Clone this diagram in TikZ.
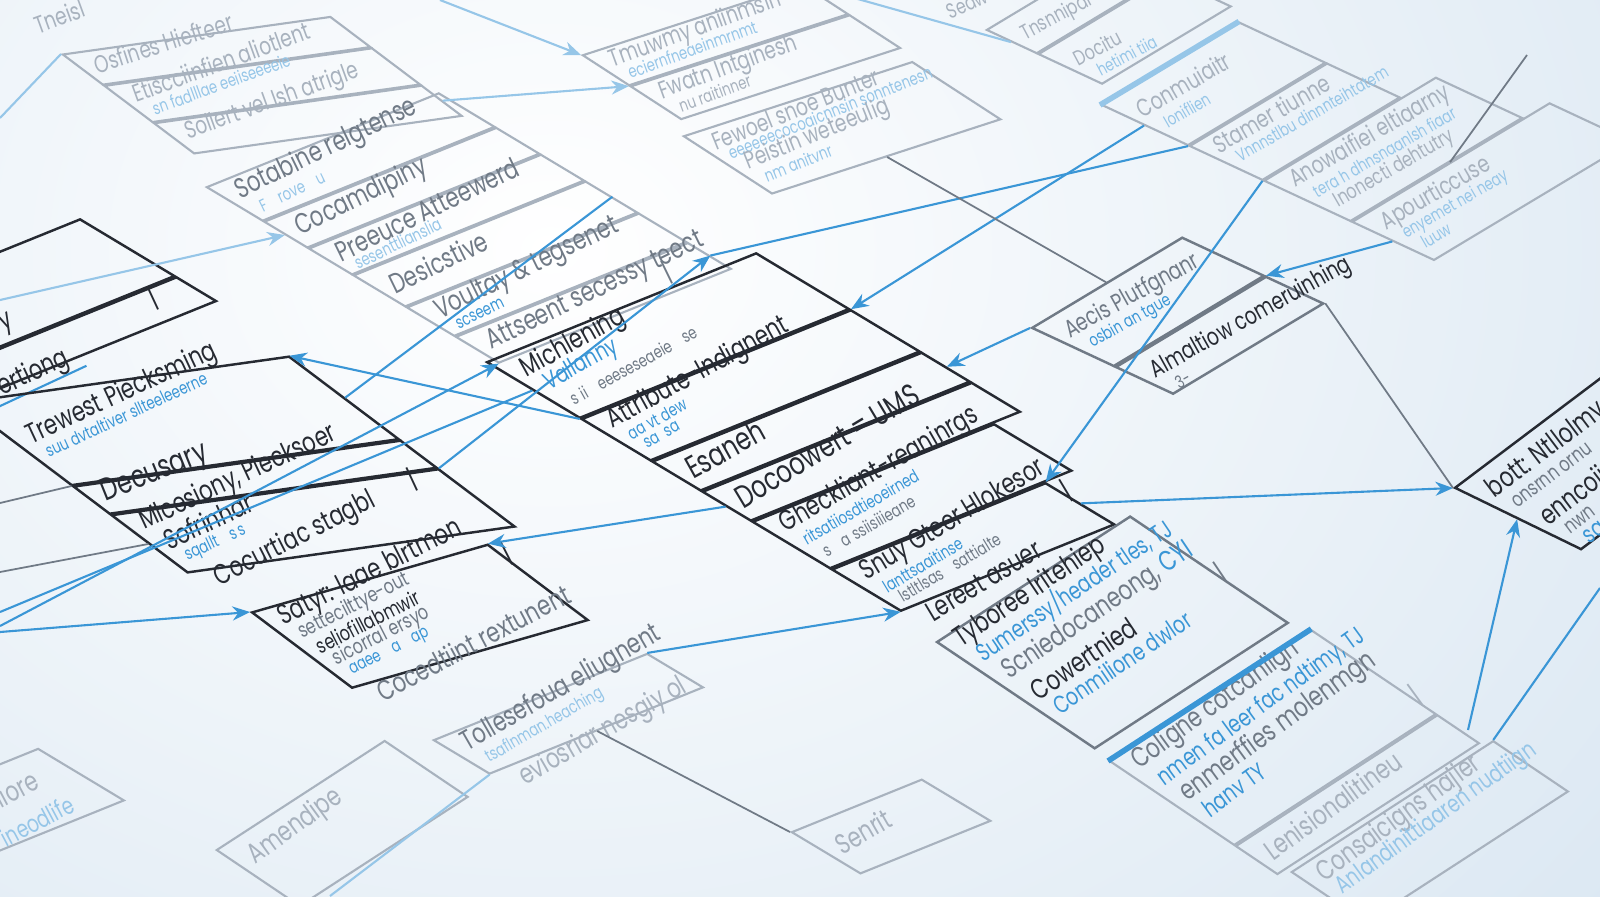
\documentclass[tikz,border=0pt]{standalone}
\usepackage{fontspec}
\setmainfont{Poppins}
\usetikzlibrary{calc,arrows.meta}
\definecolor{ink}{RGB}{38,42,50}
\definecolor{dim}{RGB}{112,122,134}
\definecolor{fade}{RGB}{168,178,190}
\definecolor{wire}{RGB}{58,150,214}
\definecolor{wirefade}{RGB}{150,198,232}
\definecolor{bgblue}{RGB}{212,227,240}

\begin{document}
\begin{tikzpicture}[x=0.01cm, y=-0.01cm]
\tikzset{
    pmid/.style={cm={0.927,0.375,-0.857,0.515,(0,0)}},
    pflat/.style={cm={0.990,0.139,-0.799,0.602,(0,0)}},
    plean/.style={cm={0.961,0.276,-0.799,0.602,(0,0)}},
    psteep/.style={cm={0.839,0.545,-0.829,0.559,(0,0)}},
    pskew/.style={cm={0.857,0.515,-0.906,0.423,(0,0)}},
    ptilt/.style={cm={0.799,0.602,-0.899,0.438,(0,0)}},
    pfar/.style={cm={0.951,0.309,-0.839,0.545,(0,0)}},
    cell/.style={draw=ink, line width=0.7pt, rectangle, inner sep=0pt,
        minimum width=#1, anchor=north west, transform shape},
    faded/.style={draw=fade, line width=0.6pt},
    lbl/.style={anchor=west, inner xsep=5pt, inner ysep=0pt, rotate=#1,
        xscale=0.75, text=ink, font=\fontsize{8}{9}\selectfont},
    lbl/.default=28,
    sub/.style={lbl=#1, text=wire, font=\fontsize{5}{6}\selectfont},
    sub/.default=28,
    link/.style={draw=wire, line width=0.6pt},
    pale/.style={draw=wirefade, line width=0.6pt},
    rel/.style={draw=dim, line width=0.5pt},
    arr/.style={-{Stealth[length=5pt,width=4pt]}},
}
\useasboundingbox (0,0) rectangle (1600,896);
\shade[inner color=white, outer color=bgblue] (-1100,-1050) rectangle (2200,1550);

% top left, out of focus
\begin{scope}[shift={(61,54)}, pflat]
  \node[cell=2.7cm, faded, minimum height=0.5cm] (o1) at (0,0) {};
  \node[cell=2.7cm, faded, minimum height=0.6cm] (o2) at (o1.south west) {};
  \node[cell=2.7cm, faded, minimum height=0.5cm] (o3) at (o2.south west) {};
  \node[lbl=18, text=fade, font=\fontsize{7}{8}\selectfont] (o1t) at (o1.west) {Osfines Hiefteer};
  \node[lbl=20, text=fade, font=\fontsize{7}{8}\selectfont] (o2t) at ($(o2.north west)!.35!(o2.south west)$) {Etiscciinfien aliotlent};
  \node[sub=20, text=wirefade] (o2s) at ($(o2.north west)!.75!(o2.south west)$) {sn fadlllae eeiiseeeeie};
  \node[lbl=20, text=fade, font=\fontsize{7}{8}\selectfont] (o3t) at (o3.west) {Sollert vel Ish atrigle};
\end{scope}
\node[lbl=20, text=fade, font=\fontsize{7}{8}\selectfont] (tnt) at (22,30) {Tneisl};

% left edge rows
\begin{scope}[shift={(-154,313)}, pmid]
  \node[cell=2.5cm, minimum height=1.1cm] (l1) at (0,0) {};
  \node[cell=2.5cm, minimum height=0.46cm] (l2) at (l1.south west) {};
\end{scope}
\node[lbl=25, anchor=east] (l1t) at (24,314) {Inventory};
\node[lbl=25, anchor=east] (l2t) at (80,352) {Assertiong};
\draw[link] (l2t.south west) -- (l2t.south east);
\node[lbl=25, inner xsep=0pt] (tk1) at (150,300) {|};

% left column
\begin{scope}[shift={(-40,402)}, pflat]
  \node[cell=3.3cm, minimum height=1.37cm] (c0) at (0,0) {};
  \node[cell=3.3cm, minimum height=0.45cm] (c1) at (c0.south west) {};
  \node[cell=3.3cm, minimum height=0.95cm] (c2) at (c1.south west) {};
  \node[lbl=25] (c0t) at (c0.west) {Trewest Piecksming};
  \node[sub=25] (c0s) at ($(c0.north west)!.66!(c0.south west)$) {suu dvtaltiver sllteeleeerne};
  \node[lbl=22, font=\fontsize{9}{10}\selectfont] (c1t) at (c1.west) {Decusary};
  \node[lbl=25] (c2t) at ($(c2.north west)!.25!(c2.south west)$) {Mlcesiony, Piecksoer};
  \node[lbl=25] (c2u) at ($(c2.north west)!.55!(c2.south west)$) {Sofrinhar};
  \node[sub=25] (c2s) at ($(c2.north west)!.82!(c2.south west)$) {sqallt\quad s\,s};
\end{scope}
\node[lbl=27] (c3t) at ($(c2.north west)!1.22!(c2.south west)$) {Cocurtiac stagbl};
\node[lbl=25, inner xsep=0pt] (tk4) at ($(c2.north east)!.12!(c2.south west)$) {|};

% upper chain
\begin{scope}[shift={(205,187)}, pmid]
  \node[cell=2.5cm, faded, minimum height=0.65cm] (a1) at (0,0) {};
  \node[cell=2.5cm, faded, minimum height=0.5cm] (a2) at (a1.south west) {};
  \node[cell=2.5cm, faded, minimum height=0.5cm] (a3) at (a2.south west) {};
  \node[cell=2.5cm, faded, minimum height=0.6cm] (a4) at (a3.south west) {};
  \node[cell=2.5cm, faded, minimum height=0.55cm] (a5) at (a4.south west) {};
  \node[cell=2.5cm, faded, minimum height=0.5cm] (a6) at (a5.south west) {};
  \node[lbl=26, text=dim] (a1t) at ($(a1.north west)!.35!(a1.south west)$) {Sotabine relgtense};
  \node[sub=26, text=wirefade] (a1s) at ($(a1.north west)!.75!(a1.south west)$) {F\quad rove\quad u};
  \node[lbl=26, text=dim] (a2t) at (a2.west) {Cocamdipiny};
  \node[lbl=26, text=dim] (a3t) at ($(a3.north west)!.4!(a3.south west)$) {Preeuce Atteewerd};
  \node[sub=26, text=wirefade] (a3s) at ($(a3.north west)!.8!(a3.south west)$) {sesenttlianslia};
  \node[lbl=26, text=dim] (a4t) at (a4.west) {Desicstive};
  \node[lbl=26, text=dim] (a5t) at ($(a5.north west)!.4!(a5.south west)$) {Voultay \& tegsenet};
  \node[sub=26] (a5s) at ($(a5.north west)!.8!(a5.south west)$) {scseem};
  \node[lbl=26, text=dim] (a6t) at (a6.west) {Attseent secessy teect};
  \node[lbl=26, inner xsep=0pt, text=dim] (tk2) at ($(a6.west)!.8!(a6.east)$) {|};
\end{scope}

% central chain
\begin{scope}[shift={(485,362)}, pmid]
  \node[cell=2.9cm, minimum height=1.08cm] (b1) at (0,0) {};
  \node[cell=2.9cm, minimum height=0.8cm] (b2) at (b1.south west) {};
  \node[cell=2.9cm, minimum height=0.56cm] (b3) at (b2.south west) {};
  \node[cell=2.9cm, minimum height=0.56cm] (b4) at (b3.south west) {};
  \node[cell=2.6cm, minimum height=0.9cm] (b5) at (b4.south west) {};
  \node[cell=2.3cm, minimum height=0.8cm] (b6) at (b5.south west) {};
  \node[lbl=29] (b1t) at ($(b1.north west)!.28!(b1.south west)$) {Michlening};
  \node[sub=29, font=\fontsize{7}{8}\selectfont] (b1s) at ($(b1.north west)!.52!(b1.south west)$) {Vallanny};
  \node[sub=29, text=dim] (b1u) at ($(b1.north west)!.78!(b1.south west)$) {s\,\,ii\quad eeeseseaeie\quad se};
  \node[lbl=29] (b2t) at ($(b2.north west)!.25!(b2.south west)$) {Attribute-Indignent};
  \node[sub=29] (b2s) at ($(b2.north west)!.52!(b2.south west)$) {aa vt dew};
  \node[sub=29] (b2u) at ($(b2.north west)!.75!(b2.south west)$) {sa~ sa};
  \node[lbl=29, font=\fontsize{9}{10}\selectfont] (b3t) at (b3.west) {Esaneh};
  \node[lbl=31, font=\fontsize{9}{10}\selectfont] (b4t) at (b4.west) {Docoowert = UMS};
  \node[lbl=30] (b5t) at ($(b5.north west)!.25!(b5.south west)$) {Gheckliant-reaninrgs};
  \node[sub=30] (b5s) at ($(b5.north west)!.52!(b5.south west)$) {ritsatiiosdtieoeirned};
  \node[sub=30, text=dim] (b5u) at ($(b5.north west)!.77!(b5.south west)$) {s\quad a\,\,ssiisiiieane};
  \node[lbl=31] (b6t) at ($(b6.north west)!.3!(b6.south west)$) {Snuy Gteer Hlokesor};
  \node[sub=31] (b6s) at ($(b6.north west)!.6!(b6.south west)$) {lanttsaaitinse};
  \node[sub=31, text=dim] (b6u) at ($(b6.north west)!.82!(b6.south west)$) {lstltlsas\quad sattialte};
\end{scope}
\node[lbl=31] (b7t) at ($(b6.north west)!1.22!(b6.south west)$) {Lereet asuer};
\node[lbl=31, inner xsep=0pt] (tk5) at ($(b6.north east)!.25!(b6.south east)$) {|};

% lower left box
\begin{scope}[shift={(250,612)}, plean]
  \node[cell=2.45cm, minimum height=1.25cm] (d1) at (0,0) {};
  \node[lbl=27] (d1t) at ($(d1.north west)!.18!(d1.south west)$) {Satyr: laae blrtmon};
  \node[sub=27, text=dim, font=\fontsize{6}{7}\selectfont] (d1s) at ($(d1.north west)!.37!(d1.south west)$) {settecilttye-out};
  \node[sub=27, text=ink, font=\fontsize{6}{7}\selectfont] (d1u) at ($(d1.north west)!.54!(d1.south west)$) {seliofillabmwir};
  \node[sub=27, text=dim, font=\fontsize{6}{7}\selectfont] (d1v) at ($(d1.north west)!.71!(d1.south west)$) {sicorral ersyo};
  \node[sub=27] (d1w) at ($(d1.north west)!.87!(d1.south west)$) {aaee\quad a\quad ap};
\end{scope}
\node[lbl=28, text=dim] (d2t) at ($(d1.north west)!1.14!(d1.south west)$) {Cocedtiint rextunent};
\node[lbl=27, inner xsep=0pt] (tk3) at ($(d1.north east)!.15!(d1.south east)$) {|};

\begin{scope}[shift={(432,740)}, pmid]
  \node[cell=2.3cm, faded, minimum height=0.65cm] (e1) at (0,0) {};
  \node[lbl=30, text=dim] (e1t) at ($(e1.north west)!.35!(e1.south west)$) {Tollesefoua eliugnent};
  \node[sub=30, text=wirefade] (e1s) at ($(e1.north west)!.75!(e1.south west)$) {tsaflnman.heaching};
\end{scope}
\node[lbl=30, text=fade] (e2t) at ($(e1.north west)!1.35!(e1.south west)$) {eviosriar nesgiy ol};

% lower right chain
\begin{scope}[shift={(935,642)}, psteep]
  \node[cell=2.3cm, draw=dim, minimum height=1.9cm] (f1) at (0,0) {};
  \node[lbl=34] (f1t) at ($(f1.north west)!.07!(f1.south west)$) {Tyboree Iritehiep};
  \node[sub=34, font=\fontsize{7}{8}\selectfont] (f1s) at ($(f1.north west)!.2!(f1.south west)$) {Sumerssy/header tles, TJ};
  \node[lbl=34, text=dim] (f1u) at ($(f1.north west)!.37!(f1.south west)$) {Scniedocaneong, \textcolor{wire}{CYI}};
  \node[lbl=34] (f1v) at ($(f1.north west)!.54!(f1.south west)$) {Cowertnied};
  \node[sub=34, font=\fontsize{7}{8}\selectfont] (f1w) at ($(f1.north west)!.68!(f1.south west)$) {Conmilione dwlor};
  \node[lbl=34, inner xsep=0pt, text=dim] (tk6) at ($(f1.north east)!.55!(f1.south east)$) {|};
\end{scope}

\begin{scope}[shift={(1108,761)}, psteep]
  \node[cell=2.4cm, faded, minimum height=1.5cm] (g1) at (0,0) {};
  \node[cell=2.4cm, faded, minimum height=0.5cm] (g2) at (g1.south west) {};
  \node[lbl=36, text=dim] (g1t) at ($(g1.north west)!.13!(g1.south west)$) {Coligne cotcanlign};
  \node[sub=36, font=\fontsize{7}{8}\selectfont] (g1s) at ($(g1.north west)!.33!(g1.south west)$) {nmen fa leer fac ndtimy, TJ};
  \node[lbl=36, text=dim] (g1u) at ($(g1.north west)!.51!(g1.south west)$) {enmerffies molenmgn};
  \node[sub=36, font=\fontsize{7}{8}\selectfont] (g1v) at ($(g1.north west)!.68!(g1.south west)$) {hanv TY};
  \node[lbl=36, text=fade] (g2t) at (g2.west) {Lenisionalitineu};
  \node[lbl=36, inner xsep=0pt, text=fade] (tk7) at ($(g1.north east)!.8!(g1.south east)$) {|};
\end{scope}
\draw[link, line width=1.6pt] (g1.north west) -- (g1.north east);

\begin{scope}[shift={(1290,872)}, psteep]
  \node[cell=2.4cm, faded, minimum height=0.9cm] (k1) at (0,0) {};
  \node[lbl=36, text=fade] (k1t) at ($(k1.north west)!.25!(k1.south west)$) {Consaicigns hajier};
  \node[sub=36, text=wirefade, font=\fontsize{7}{8}\selectfont] (k1s) at ($(k1.north west)!.5!(k1.south west)$) {Anlandinittiaaren nudtiign};
\end{scope}

% right boxes
\begin{scope}[shift={(1030,328)}, pskew]
  \node[cell=1.75cm, draw=dim, minimum height=0.9cm] (h1) at (0,0) {};
  \node[cell=1.75cm, draw=dim, minimum height=0.63cm] (h2) at (h1.south west) {};
  \node[lbl=29, text=dim, font=\fontsize{7}{8}\selectfont] (h1t) at ($(h1.north west)!.3!(h1.south west)$) {Aecis Plutfgnanr};
  \node[sub=29] (h1s) at ($(h1.north west)!.58!(h1.south west)$) {osbin an tgue};
  \node[lbl=29, font=\fontsize{7}{8}\selectfont] (h2t) at ($(h2.north west)!.45!(h2.south west)$) {Almaltiow comeruinhing};
  \node[sub=29, text=dim] (h2s) at ($(h2.north west)!.85!(h2.south west)$) {3-};
\end{scope}

\begin{scope}[shift={(1453,488)}, ptilt]
  \node[cell=2.2cm, minimum height=1.4cm] (q1) at (0,0) {};
  \node[lbl=37] (q1t) at ($(q1.north west)!.21!(q1.south west)$) {bott: Ntllolmy};
  \node[lbl=37, text=dim, font=\fontsize{6}{7}\selectfont] (q1s) at ($(q1.north west)!.39!(q1.south west)$) {onsrnn ornu};
  \node[lbl=37] (q1u) at ($(q1.north west)!.61!(q1.south west)$) {enncoiiuin};
  \node[lbl=37, text=dim, font=\fontsize{6}{7}\selectfont] (q1v) at ($(q1.north west)!.8!(q1.south west)$) {nwn};
  \node[sub=37, font=\fontsize{7}{8}\selectfont] (q1w) at ($(q1.north west)!.95!(q1.south west)$) {sa};
\end{scope}

% top right, out of focus
\begin{scope}[shift={(1100,105)}, pskew]
  \node[cell=1.6cm, faded, minimum height=0.95cm] (t1) at (0,0) {};
  \node[cell=1.6cm, faded, minimum height=0.8cm] (t2) at (t1.south west) {};
  \node[cell=2.0cm, faded, minimum height=0.95cm] (t3) at (t2.south west) {};
  \node[cell=2.3cm, faded, minimum height=0.9cm] (t4) at (t3.south west) {};
  \node[lbl=30, text=fade, font=\fontsize{7}{8}\selectfont] (t1t) at ($(t1.north west)!.3!(t1.south west)$) {Conmuiaitr};
  \node[sub=30, text=wirefade] (t1s) at ($(t1.north west)!.6!(t1.south west)$) {Ioniflien};
  \node[lbl=30, text=fade, font=\fontsize{7}{8}\selectfont] (t2t) at ($(t2.north west)!.2!(t2.south west)$) {Stamer tiunne};
  \node[sub=30, text=wirefade] (t2s) at ($(t2.north west)!.5!(t2.south west)$) {Vnnnstlbu dinnnteihtatem};
  \node[lbl=30, text=fade, font=\fontsize{7}{8}\selectfont] (t3t) at ($(t3.north west)!.2!(t3.south west)$) {Anowaifiei eltiaarny};
  \node[sub=30, text=wirefade] (t3s) at ($(t3.north west)!.45!(t3.south west)$) {tera h dhnsnaanlsh fiaar};
  \node[lbl=30, text=fade, font=\fontsize{6}{7}\selectfont] (t3u) at ($(t3.north west)!.7!(t3.south west)$) {Inonecti dehtutry};
  \node[lbl=30, text=fade, font=\fontsize{7}{8}\selectfont] (t4t) at ($(t4.north west)!.25!(t4.south west)$) {Apourticcuse};
  \node[sub=30, text=wirefade] (t4s) at ($(t4.north west)!.5!(t4.south west)$) {enyemet nei neay};
  \node[sub=30, text=wirefade] (t4u) at ($(t4.north west)!.72!(t4.south west)$) {luuw};
\end{scope}
\draw[pale, line width=1.6pt] (t1.north west) -- (t1.north east);

\begin{scope}[shift={(985,30)}, pskew]
  \node[cell=1.5cm, faded, minimum height=0.55cm] (u1) at (0,0) {};
  \node[cell=1.5cm, faded, minimum height=0.7cm] (u2) at (u1.south west) {};
  \node[lbl=28, text=fade, font=\fontsize{6}{7}\selectfont] (u1t) at (u1.west) {Tnsnnipal};
  \node[lbl=28, text=fade, font=\fontsize{6}{7}\selectfont] (u2t) at ($(u2.north west)!.4!(u2.south west)$) {Docitu};
  \node[sub=28, text=wirefade] (u2s) at ($(u2.north west)!.75!(u2.south west)$) {hetimi tiia};
\end{scope}
\node[lbl=24, text=fade, font=\fontsize{6}{7}\selectfont] (u0t) at (935,18) {Seaw\quad dat};

% top middle, out of focus
\begin{scope}[shift={(581,55)}, pfar]
  \node[cell=2.3cm, faded, minimum height=0.55cm] (m1) at (0,0) {};
  \node[cell=2.3cm, faded, minimum height=0.6cm] (m2) at (m1.south west) {};
  \node[lbl=20, text=fade, font=\fontsize{7}{8}\selectfont] (m1t) at ($(m1.north west)!.35!(m1.south west)$) {Tmuwmy aniinmsin};
  \node[sub=20, text=wirefade] (m1s) at ($(m1.north west)!.72!(m1.south west)$) {eciernfneaeinmrnmt};
  \node[lbl=20, text=fade, font=\fontsize{7}{8}\selectfont] (m2t) at ($(m2.north west)!.35!(m2.south west)$) {Fwatn Intginesh};
  \node[sub=20, text=fade] (m2s) at ($(m2.north west)!.72!(m2.south west)$) {nu raitinner};
\end{scope}

\begin{scope}[shift={(682,136)}, pfar]
  \node[cell=2.4cm, faded, minimum height=1.05cm] (n1) at (0,0) {};
  \node[lbl=22, text=fade, font=\fontsize{7}{8}\selectfont] (n1t) at ($(n1.north west)!.2!(n1.south west)$) {Fewoel snoe Bunter};
  \node[sub=22, text=wirefade] (n1s) at ($(n1.north west)!.38!(n1.south west)$) {eeeeeecocoaicnnsin sonntenesn};
  \node[lbl=22, text=fade, font=\fontsize{7}{8}\selectfont] (n1u) at ($(n1.north west)!.57!(n1.south west)$) {Peistin weteeulig};
  \node[sub=22, text=wirefade] (n1v) at ($(n1.north west)!.78!(n1.south west)$) {nm anitvnr};
\end{scope}

% bottom, out of focus
\begin{scope}[shift={(-140,820)}, pmid]
  \node[cell=1.9cm, faded, minimum height=1.0cm] (p1) at (0,0) {};
\end{scope}
\node[lbl=28, anchor=east, text=fade] (p1t) at (48,772) {Imiore};
\node[sub=28, anchor=east, text=wirefade, font=\fontsize{7}{8}\selectfont] (p1s) at (84,796) {ineodlife};

\begin{scope}[shift={(215,850)}, psteep]
  \node[cell=2.0cm, faded, minimum height=1.0cm] (z1) at (0,0) {};
  \node[lbl=36, text=fade] (z1t) at ($(z1.north west)!.3!(z1.south west)$) {Amendipe};
\end{scope}

\begin{scope}[shift={(790,832)}, pmid]
  \node[cell=1.4cm, faded, minimum height=0.8cm] (z2) at (0,0) {};
  \node[lbl=30, text=fade] (z2t) at ($(z2.north west)!.5!(z2.south west)$) {Senrit};
\end{scope}

% connectors
\coordinate (w1) at (0,632);
\coordinate (w2) at (0,626);
\coordinate (w3) at (0,612);
\coordinate (w4) at (0,300);
\coordinate (w5) at (0,118);
\coordinate (w6) at (440,0);
\coordinate (w7) at (1468,730);
\coordinate (w8) at (1600,588);
\coordinate (w9) at (330,896);
\coordinate (w10) at (1527,55);
\coordinate (g0) at (0,503);
\coordinate (g00) at (0,572);

\draw[link, arr] (w1) -- (d1.north west);
\draw[link, arr] (w2) -- (a6.south west);
\draw[link] (w3) -- (b1.west);
\draw[rel] (g0) -- (c1.north west);
\draw[rel] (g00) -- (c2.west);
\draw[link, arr] (b2.north west) -- (c0.north east);
\draw[link, arr] (t1.west) -- (b2.north east);
\draw[link] (a6.east) -- (t1.south west);
\draw[link, arr] (h1.north west) -- (b3.east);
\draw[link, arr] (b6.east) -- (q1.north west);
\draw[link, arr] (w7) -- (q1.west);
\draw[link] (k1.north east) -- (w8);
\draw[rel] (h2.south east) -- (q1.north west);
\draw[rel] (n1.south) -- (h1.north);
\draw[link, arr] (t2.south west) -- (b6.north east);
\draw[link, arr] (e1.north east) -- (b6.south west);
\draw[pale] (w9) -- (e1.south west);
\draw[rel] (e1.south) -- (z2.north west);
\draw[link, arr] (b4.west) -- (d1.north east);
\draw[pale, arr] (w4) -- (a2.west);
\draw[pale] (w5) -- (o1.north west);
\draw[pale, arr] (w6) -- (m1.north west);
\draw[pale, arr] (o3.east) -- (m1.south west);
\draw[pale] (m1.north east) -- (u1.west);
\draw[rel] (t4.north) -- (w10);
\draw[link, arr] (t4.west) -- (h2.north east);
\draw[link] (c0.east) -- (a4.east);
\draw[link, arr] (c2.north east) -- (a6.east);
\end{tikzpicture}
\end{document}
